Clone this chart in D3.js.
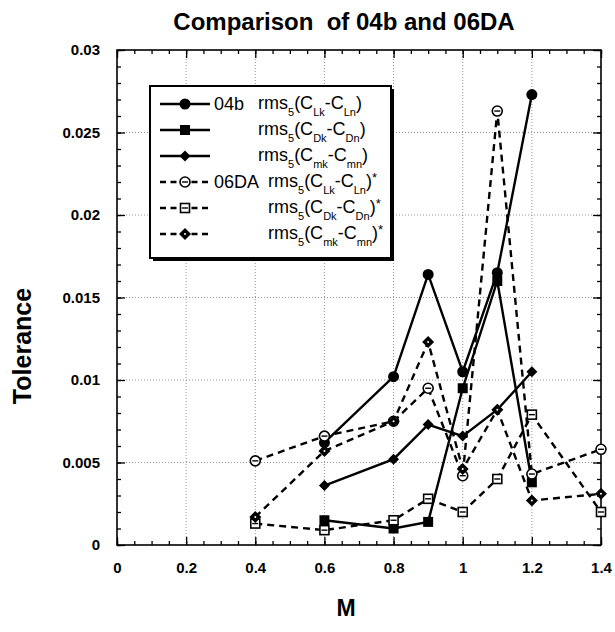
<!DOCTYPE html>
<html>
<head>
<meta charset="utf-8">
<script src="https://cdn.jsdelivr.net/npm/d3@7"></script>
<style>
  html, body { margin: 0; padding: 0; background: #fff; }
  svg { display: block; font-family: "Liberation Sans", Arial, Helvetica, sans-serif; }
</style>
</head>
<body>
<svg id="chart" width="615" height="632"></svg>
<script>
// Mach numbers sampled by each run
const machA = [0.6, 0.8, 0.9, 1.0, 1.1, 1.2];
const machB = [0.4, 0.6, 0.8, 0.9, 1.0, 1.1, 1.2, 1.4];

// 04b tolerances
const lift04b   = [0.0062, 0.0102, 0.0164, 0.0105, 0.0165, 0.0273];
const drag04b   = [0.0015, 0.0010, 0.0014, 0.0095, 0.0160, 0.0038];
const moment04b = [0.0036, 0.0052, 0.0073, 0.0066, 0.0082, 0.0105];

// 06DA tolerances
const lift06DA   = [0.0051, 0.0066, 0.0075, 0.0095, 0.0042, 0.0263, 0.0043, 0.0058];
const drag06DA   = [0.0013, 0.0009, 0.0015, 0.0028, 0.0020, 0.0040, 0.0079, 0.0020];
const moment06DA = [0.0017, 0.0057, 0.0075, 0.0123, 0.0046, 0.0082, 0.0027, 0.0031];

const xTicks = [0, 0.2, 0.4, 0.6, 0.8, 1, 1.2, 1.4];
const yTicks = [0, 0.005, 0.01, 0.015, 0.02, 0.025, 0.03];

const series = [
  { x: machA, y: lift04b,    dashed: false, marker: "circle",  tag: "04b",  sub: ["Lk", "Ln"], star: false },
  { x: machA, y: drag04b,    dashed: false, marker: "square",  tag: "",     sub: ["Dk", "Dn"], star: false },
  { x: machA, y: moment04b,  dashed: false, marker: "diamond", tag: "",     sub: ["mk", "mn"], star: false },
  { x: machB, y: lift06DA,   dashed: true,  marker: "ocircle", tag: "06DA", sub: ["Lk", "Ln"], star: true },
  { x: machB, y: drag06DA,   dashed: true,  marker: "osquare", tag: "",     sub: ["Dk", "Dn"], star: true },
  { x: machB, y: moment06DA, dashed: true,  marker: "odiamond",tag: "",     sub: ["mk", "mn"], star: true }
];

const svg = d3.select("#chart");
const L = 117, R = 601, T = 50, B = 545;

const x = d3.scaleLinear().domain([0, 1.4]).range([L, R]);
const y = d3.scaleLinear().domain([0, 0.03]).range([B, T]);

// dotted grid at the major ticks
const grid = svg.append("g").attr("stroke", "#777").attr("stroke-width", 0.8).attr("stroke-dasharray", "1,2");
grid.selectAll("line.gx").data(xTicks.filter(d => d > 0 && d < 1.4)).join("line")
  .attr("x1", d => x(d)).attr("x2", d => x(d)).attr("y1", T).attr("y2", B);
grid.selectAll("line.gy").data(yTicks.filter(d => d > 0 && d < 0.03)).join("line")
  .attr("y1", d => y(d)).attr("y2", d => y(d)).attr("x1", L).attr("x2", R);

// axes with inward ticks on all four sides
const xMinor = d3.range(0, 1.4001, 0.05).map(v => +v.toFixed(2));
const yMinor = d3.range(0, 0.03001, 0.001).map(v => +v.toFixed(3));

function axisGroup(axis, tx, ty) {
  const g = svg.append("g").attr("transform", `translate(${tx},${ty})`).call(axis);
  g.select(".domain").remove();
  g.selectAll("line").attr("stroke", "#000").attr("stroke-width", 1.3);
  return g;
}
// minor ticks
axisGroup(d3.axisBottom(x).tickValues(xMinor).tickSize(-4).tickFormat(""), 0, B);
axisGroup(d3.axisTop(x).tickValues(xMinor).tickSize(-4).tickFormat(""), 0, T);
axisGroup(d3.axisLeft(y).tickValues(yMinor).tickSize(-4).tickFormat(""), L, 0);
axisGroup(d3.axisRight(y).tickValues(yMinor).tickSize(-4).tickFormat(""), R, 0);
// major ticks with labels
const fmt = d => d3.format("~g")(d);
const gxb = axisGroup(d3.axisBottom(x).tickValues(xTicks).tickSize(-8).tickPadding(17).tickFormat(fmt), 0, B);
axisGroup(d3.axisTop(x).tickValues(xTicks).tickSize(-8).tickFormat(""), 0, T);
const gyl = axisGroup(d3.axisLeft(y).tickValues(yTicks).tickSize(-8).tickPadding(17).tickFormat(fmt), L, 0);
axisGroup(d3.axisRight(y).tickValues(yTicks).tickSize(-8).tickFormat(""), R, 0);
[gxb, gyl].forEach(g => g.selectAll("text")
  .attr("font-family", "Liberation Sans, Arial, sans-serif")
  .attr("font-size", 15).attr("font-weight", "bold").attr("fill", "#000"));

// frame
svg.append("rect").attr("x", L).attr("y", T).attr("width", R - L).attr("height", B - T)
  .attr("fill", "none").attr("stroke", "#000").attr("stroke-width", 1.6);

// markers
function drawMarker(g, type, cx, cy) {
  if (type === "circle") {
    g.append("circle").attr("cx", cx).attr("cy", cy).attr("r", 5.5).attr("fill", "#000");
  } else if (type === "square") {
    g.append("rect").attr("x", cx - 5).attr("y", cy - 5).attr("width", 10).attr("height", 10).attr("fill", "#000");
  } else if (type === "diamond") {
    g.append("path").attr("d", `M${cx},${cy - 5.5}L${cx + 5.5},${cy}L${cx},${cy + 5.5}L${cx - 5.5},${cy}Z`).attr("fill", "#000");
  } else if (type === "ocircle") {
    g.append("circle").attr("cx", cx).attr("cy", cy).attr("r", 5).attr("fill", "#fff").attr("stroke", "#000").attr("stroke-width", 1.6);
    g.append("line").attr("x1", cx - 3).attr("x2", cx + 3).attr("y1", cy).attr("y2", cy).attr("stroke", "#000").attr("stroke-width", 1.4);
  } else if (type === "osquare") {
    g.append("rect").attr("x", cx - 4.5).attr("y", cy - 4.5).attr("width", 9).attr("height", 9)
      .attr("fill", "#fff").attr("stroke", "#000").attr("stroke-width", 1.6);
    g.append("line").attr("x1", cx - 3).attr("x2", cx + 3).attr("y1", cy).attr("y2", cy).attr("stroke", "#000").attr("stroke-width", 1.4);
  } else if (type === "odiamond") {
    g.append("path").attr("d", `M${cx},${cy - 6}L${cx + 6},${cy}L${cx},${cy + 6}L${cx - 6},${cy}Z`).attr("fill", "#000");
    g.append("circle").attr("cx", cx).attr("cy", cy).attr("r", 1).attr("fill", "#fff");
  }
}

const line = d3.line().x(d => x(d[0])).y(d => y(d[1]));
const plot = svg.append("g");
series.forEach(s => {
  const pts = s.x.map((v, i) => [v, s.y[i]]);
  plot.append("path").datum(pts).attr("d", line)
    .attr("fill", "none").attr("stroke", "#000").attr("stroke-width", 2.4)
    .attr("stroke-dasharray", s.dashed ? "7,5" : null);
});
series.forEach(s => {
  const g = plot.append("g");
  s.x.forEach((v, i) => drawMarker(g, s.marker, x(v), y(s.y[i])));
});

// legend box with drop shadow
const lg = svg.append("g");
const lx0 = 150, ly0 = 86, lx1 = 391, ly1 = 258;
lg.append("rect").attr("x", lx0 + 3).attr("y", ly0 + 3).attr("width", lx1 - lx0).attr("height", ly1 - ly0).attr("fill", "#000");
lg.append("rect").attr("x", lx0).attr("y", ly0).attr("width", lx1 - lx0).attr("height", ly1 - ly0)
  .attr("fill", "#fff").attr("stroke", "#000").attr("stroke-width", 2);
series.forEach((s, i) => {
  const cy = 104 + i * 26;
  lg.append("line").attr("x1", 160).attr("x2", 210).attr("y1", cy).attr("y2", cy)
    .attr("stroke", "#000").attr("stroke-width", 2.4).attr("stroke-dasharray", s.dashed ? "6,4.5" : null);
  drawMarker(lg, s.marker, 185, cy);
  if (s.tag) {
    lg.append("text").attr("x", 214).attr("y", cy + 6).attr("font-size", 18).text(s.tag);
  }
  const t = lg.append("text").attr("x", s.star ? 268 : 258).attr("y", cy + 5).attr("font-size", 18);
  t.append("tspan").text("rms");
  t.append("tspan").attr("font-size", 11).attr("dy", 7).text("5");
  t.append("tspan").attr("dy", -7).text("(C");
  t.append("tspan").attr("font-size", 11).attr("dy", 7).text(s.sub[0]);
  t.append("tspan").attr("dy", -7).text("-C");
  t.append("tspan").attr("font-size", 11).attr("dy", 7).text(s.sub[1]);
  t.append("tspan").attr("dy", -7).text(")");
  if (s.star) t.append("tspan").attr("font-size", 13).attr("dy", -5).text("*");
});

// titles
svg.append("text").attr("x", 344).attr("y", 30).attr("text-anchor", "middle")
  .attr("font-size", 24).attr("font-weight", "bold").attr("xml:space", "preserve").text("Comparison  of 04b and 06DA");
svg.append("text").attr("x", 346).attr("y", 616).attr("text-anchor", "middle")
  .attr("font-size", 23).attr("font-weight", "bold").text("M");
svg.append("text").attr("transform", "translate(31,346) rotate(-90)").attr("text-anchor", "middle")
  .attr("font-size", 25).attr("font-weight", "bold").text("Tolerance");
</script>
</body>
</html>
